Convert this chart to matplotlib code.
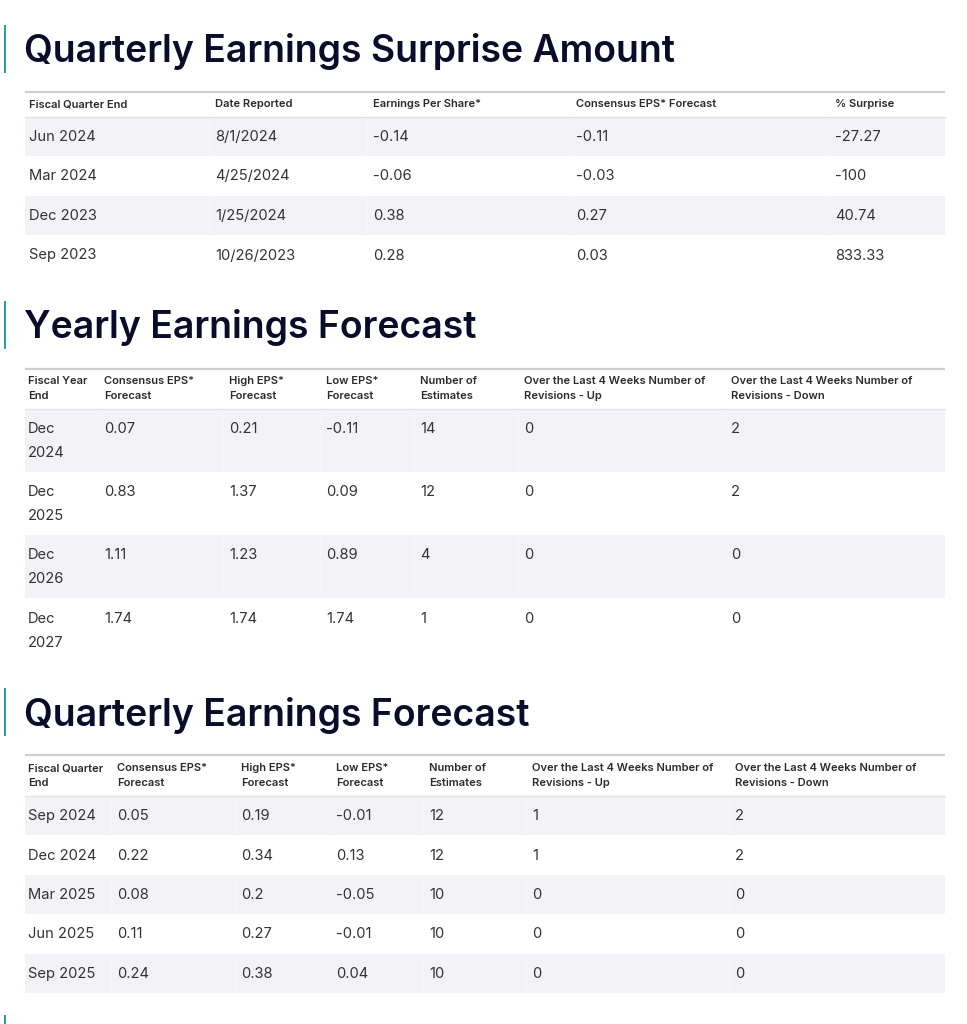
import matplotlib
matplotlib.use("Agg")
import matplotlib.pyplot as plt
from matplotlib.patches import Rectangle

plt.rcParams['font.family'] = ['Inter', 'DejaVu Sans']

# ---------------- data ----------------
surprise_title = "Quarterly Earnings Surprise Amount"
surprise_headers = ["Fiscal Quarter End", "Date Reported", "Earnings Per Share*",
                    "Consensus EPS* Forecast", "% Surprise"]
surprise_quarters = ["Jun 2024", "Mar 2024", "Dec 2023", "Sep 2023"]
surprise_dates = ["8/1/2024", "4/25/2024", "1/25/2024", "10/26/2023"]
surprise_eps = ["-0.14", "-0.06", "0.38", "0.28"]
surprise_consensus = ["-0.11", "-0.03", "0.27", "0.03"]
surprise_pct = ["-27.27", "-100", "40.74", "833.33"]

yearly_title = "Yearly Earnings Forecast"
yearly_headers = [["Fiscal Year", "End"], ["Consensus EPS*", "Forecast"],
                  ["High EPS*", "Forecast"], ["Low EPS*", "Forecast"],
                  ["Number of", "Estimates"],
                  ["Over the Last 4 Weeks Number of", "Revisions - Up"],
                  ["Over the Last 4 Weeks Number of", "Revisions - Down"]]
yearly_periods = ["Dec 2024", "Dec 2025", "Dec 2026", "Dec 2027"]
yearly_consensus = ["0.07", "0.83", "1.11", "1.74"]
yearly_high = ["0.21", "1.37", "1.23", "1.74"]
yearly_low = ["-0.11", "0.09", "0.89", "1.74"]
yearly_n = ["14", "12", "4", "1"]
yearly_up = ["0", "0", "0", "0"]
yearly_down = ["2", "2", "0", "0"]

quarterly_title = "Quarterly Earnings Forecast"
quarterly_headers = [["Fiscal Quarter", "End"], ["Consensus EPS*", "Forecast"],
                     ["High EPS*", "Forecast"], ["Low EPS*", "Forecast"],
                     ["Number of", "Estimates"],
                     ["Over the Last 4 Weeks Number of", "Revisions - Up"],
                     ["Over the Last 4 Weeks Number of", "Revisions - Down"]]
quarterly_periods = ["Sep 2024", "Dec 2024", "Mar 2025", "Jun 2025", "Sep 2025"]
quarterly_consensus = ["0.05", "0.22", "0.08", "0.11", "0.24"]
quarterly_high = ["0.19", "0.34", "0.2", "0.27", "0.38"]
quarterly_low = ["-0.01", "0.13", "-0.05", "-0.01", "0.04"]
quarterly_n = ["12", "12", "10", "10", "10"]
quarterly_up = ["1", "1", "0", "0", "0"]
quarterly_down = ["2", "2", "0", "0", "0"]

# ---------------- style ----------------
W, H = 967, 1024
TITLE_C = "#0b0c2a"
ACCENT = "#2a9bb3"
TEXT_C = "#333333"
HEAD_C = "#2b2b2b"
BAND = "#f3f3f7"
LINE_TOP = "#cfcfcf"
LINE_HEAD = "#e2e2e2"
X0, X1 = 25, 945

fig = plt.figure(figsize=(W / 100, H / 100), dpi=100)
ax = fig.add_axes([0, 0, 1, 1])
ax.set_xlim(0, W)
ax.set_ylim(H, 0)
ax.axis('off')


def section_title(text, yc):
    ax.add_patch(Rectangle((4, yc - 24), 2.2, 48, color=ACCENT, lw=0))
    ax.text(X0 - 1, yc + 3, text, fontsize=26.9, fontweight='semibold',
            color=TITLE_C, va='center', ha='left')


def table(y_top, head_lines_y, head_bottom, col_x, headers, columns,
          row_h, line_offsets):
    ax.plot([X0, X1], [y_top, y_top], color=LINE_TOP, lw=1.6,
            solid_capstyle='butt')
    for cx, hd in zip(col_x, headers):
        lines = hd if isinstance(hd, list) else [hd]
        for ly, t in zip(head_lines_y, lines):
            ax.text(cx, ly, t, fontsize=8.0, fontweight='semibold',
                    color=HEAD_C, va='center', ha='left')
    ax.plot([X0, X1], [head_bottom, head_bottom], color=LINE_HEAD, lw=1.0)
    nrows = len(columns[0])
    for r in range(nrows):
        ry = head_bottom + r * row_h
        if r % 2 == 0:
            ax.add_patch(Rectangle((X0, ry), X1 - X0, row_h, color=BAND,
                                   lw=0, zorder=0))
            for cx in col_x[1:]:
                ax.plot([cx - 6, cx - 6], [ry, ry + row_h], color="#f8f8fb",
                        lw=0.6, zorder=0.5)
        for cx, col in zip(col_x, columns):
            val = col[r]
            lines = val if isinstance(val, list) else [val]
            for off, t in zip(line_offsets, lines):
                ax.text(cx, ry + off, t, fontsize=10.6, color=TEXT_C,
                        va='center', ha='left')


# Section 1
section_title(surprise_title, 49)
table(91.5, [104], 116.5, [29, 215, 373, 576, 835], surprise_headers,
      [surprise_quarters, surprise_dates, surprise_eps, surprise_consensus,
       surprise_pct], 39.5, [20.5])

# Section 2
section_title(yearly_title, 325)
yearly_first = [p.split(" ") for p in yearly_periods]
table(368.5, [381, 396], 408.5, [28, 104, 229, 326, 420, 524, 731],
      yearly_headers,
      [yearly_first, yearly_consensus, yearly_high, yearly_low, yearly_n,
       yearly_up, yearly_down], 63.2, [20.5, 44.5])

# Section 3
section_title(quarterly_title, 712)
table(754.5, [768, 783], 795.5, [28, 117, 241, 336, 429, 532, 735],
      quarterly_headers,
      [quarterly_periods, quarterly_consensus, quarterly_high, quarterly_low,
       quarterly_n, quarterly_up, quarterly_down], 39.5, [20.5])

# start of next section accent at the bottom edge
ax.add_patch(Rectangle((4, 1015), 2.2, 12, color=ACCENT, lw=0))

fig.savefig("out.png", dpi=100, facecolor="white")
